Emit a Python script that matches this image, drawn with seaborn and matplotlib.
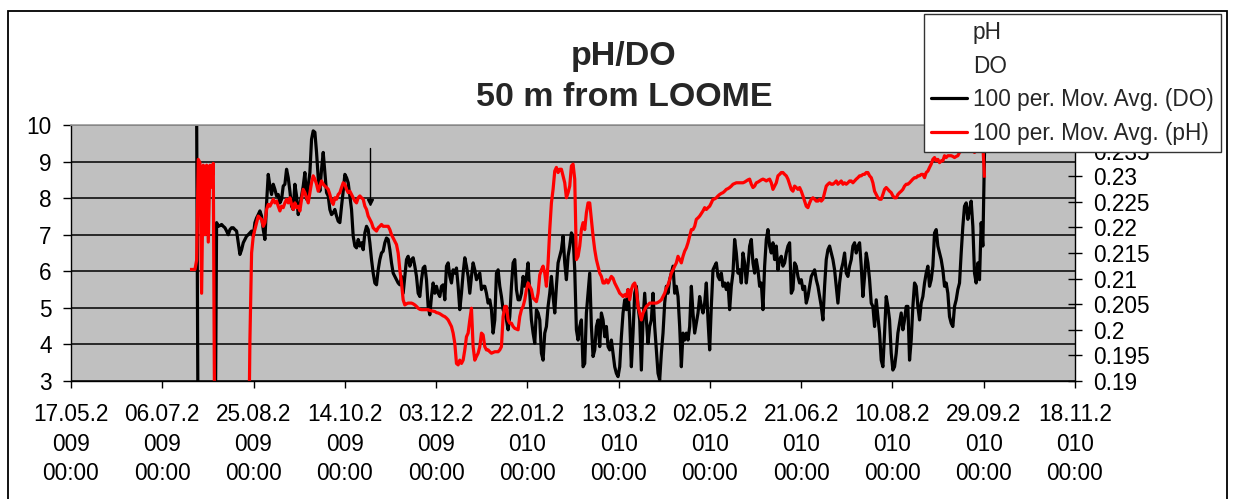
import matplotlib
matplotlib.use("Agg")
import matplotlib.pyplot as plt
from matplotlib.lines import Line2D
from matplotlib.patches import Rectangle
import pandas as pd
import seaborn as sns

# ---------------------------------------------------------------- data ---
TITLE = "pH/DO\n50 m from LOOME"
LEGEND_LABELS = ["pH", "DO", "100 per. Mov. Avg. (DO)", "100 per. Mov. Avg. (pH)"]

# smoothed series are stored on a regular logging step
STEP = "1314min"
DO_START = "2009-07-24 19:30"
PH_START = "2009-07-21 03:54"

# 100-period moving average of dissolved oxygen
DO_AVG = [
    10.5,
    0.0, 0.0, 0.0, 0.0, 0.0, 0.0, 0.0, 0.0, 0.0, 0.0, 0.0,
    7.33, 7.23, 7.25, 7.28, 7.23, 7.19, 7.10, 7.00, 7.14, 7.19,
    7.19, 7.14, 7.10, 6.78, 6.46, 6.59, 6.78, 6.87, 6.96, 7.00,
    7.05, 7.10, 6.96, 7.33, 7.46, 7.55, 7.65, 7.51, 7.14, 6.87,
    7.87, 8.65, 8.33, 8.10, 8.38, 8.24, 8.06, 8.10, 7.87, 7.97,
    8.33, 8.38, 8.79, 8.56, 8.19, 7.78, 7.69, 8.38, 8.06, 7.55,
    7.83, 8.06, 8.33, 8.70, 7.97, 8.33, 8.70, 9.61, 9.84, 9.80,
    9.25, 8.56, 8.19, 8.79, 9.25, 8.70, 8.15, 8.06, 7.69, 7.55,
    7.60, 7.69, 7.51, 7.37, 7.33, 7.78, 8.19, 8.65, 8.56, 8.42,
    8.06, 7.69, 6.96, 6.69, 6.64, 6.87, 6.69, 6.78, 6.59, 7.05,
    7.23, 7.14, 6.78, 6.32, 5.95, 5.68, 5.63, 6.04, 6.32, 6.50,
    6.55,
    6.78, 6.91, 6.87, 6.59, 6.23, 5.95, 5.86, 5.77, 5.68, 5.63,
    5.86, 5.40, 5.86, 6.32, 6.41, 6.14, 6.32, 6.37, 6.14, 5.86,
    5.40, 5.31, 5.77, 6.09, 6.14, 5.77, 5.04, 4.81, 5.31, 5.68,
    5.40, 5.59, 5.40, 5.31, 5.59, 5.63, 5.22, 6.14, 6.23, 5.86,
    5.68, 6.04, 5.95, 6.09, 5.59, 4.95, 5.40, 5.95, 6.37, 6.14,
    5.86, 5.40, 5.86, 6.23, 6.04, 5.77, 5.86, 5.95, 5.50, 5.59,
    5.59, 5.40, 5.13, 5.22, 4.95, 4.31, 4.67, 5.95, 6.04, 5.59,
    5.31, 4.95, 4.86, 4.67, 4.40, 4.76, 5.59, 6.23, 6.32, 5.50,
    5.22, 5.22, 5.40, 5.86, 5.59, 5.86, 6.23, 5.40, 4.67, 4.31,
    4.03, 4.95, 4.86, 4.67, 3.76, 3.57, 4.31, 4.49, 5.04, 5.40,
    5.86, 5.31, 4.86, 5.59, 6.23, 6.41, 6.59, 6.96, 6.23, 5.77,
    6.41, 6.69, 7.05, 6.96, 6.04, 4.40, 4.12, 4.49, 4.67, 3.39,
    3.48, 4.86, 5.40,
    5.95, 4.49, 3.67, 3.85, 4.49, 4.67, 3.94, 4.86, 4.67, 4.21,
    4.49, 3.94, 3.85, 4.12, 3.76, 3.39, 3.21, 3.12, 3.39, 4.21,
    4.86, 5.22, 4.95, 5.50, 4.67, 3.39, 4.31, 5.40, 5.59, 5.04,
    4.67, 3.30, 4.67, 5.40, 4.67, 4.03, 4.49, 4.67, 5.40, 4.49,
    3.85, 3.21, 3.03, 3.76, 4.31, 5.13, 5.59, 5.40, 5.77, 5.95,
    6.14, 5.40, 5.59, 5.31, 4.49, 3.39, 4.31, 4.12, 4.31, 4.12,
    4.49, 5.59, 4.86, 4.31, 4.58, 4.86, 5.31, 5.04, 4.86, 5.13,
    5.68, 4.67, 3.85, 5.04, 6.04, 6.14, 6.23, 5.86, 5.77, 5.95,
    5.59, 5.68, 5.50, 5.68, 4.95, 5.59, 5.95, 6.87, 6.50, 5.95,
    6.04, 5.68, 6.50, 6.23, 5.68, 6.14, 6.69, 6.87, 6.23, 5.95,
    6.32, 6.04, 5.59, 5.68, 4.95, 6.14, 6.87, 7.14, 6.69, 6.50,
    6.78, 6.32, 6.69, 6.04, 6.32, 6.41, 6.14, 6.23, 6.50, 6.69,
    6.78, 5.40, 5.50,
    6.23, 6.14, 5.86, 5.68, 5.77, 5.50, 5.59, 5.13, 5.31, 5.59,
    5.86, 5.95, 6.04, 5.77, 5.59, 5.31, 5.04, 4.67, 5.59, 6.32,
    6.59, 6.69, 6.50, 6.32, 6.04, 5.59, 5.13, 5.68, 6.04, 6.23,
    6.50, 5.95, 5.86, 6.14, 6.32, 6.69, 6.78, 6.50, 6.69, 6.78,
    6.14, 5.31, 5.86, 6.50, 6.23, 5.77, 5.13, 5.04, 4.49, 5.22,
    4.76, 4.31, 3.57, 3.39, 4.31, 5.31, 5.04, 4.67, 3.76, 3.30,
    3.39, 3.76, 4.31, 4.58, 4.86, 4.40, 4.67, 5.04, 5.04, 3.57,
    4.12, 5.04, 5.68, 5.59, 5.04, 4.67, 5.13, 5.31, 5.68, 5.95,
    6.14, 5.59, 5.77, 6.14, 7.05, 7.14, 6.69, 6.50, 6.32, 6.04,
    5.59, 5.68, 5.40, 4.76, 4.58, 4.49, 5.04, 5.22, 5.50, 5.68,
    6.50, 7.23, 7.78, 7.87, 7.42, 7.69, 7.92, 7.23, 5.95, 5.68,
    6.23, 5.77, 7.33, 6.69, 9.25,
]

# 100-period moving average of pH
PH_AVG = [
    6.05, 6.05, 6.05, 6.05,
    6.30, 9.06, 8.97, 5.40, 8.90, 7.00, 8.90, 6.80, 8.90, 8.30, 8.95,
    0.0, 0.0, 0.0, 0.0, 0.0, 0.0, 0.0, 0.0, 0.0, 0.0, 0.0,
    0.0, 0.0, 0.0, 0.0, 0.0, 0.0, 0.0, 0.0, 0.0, 0.0,
    4.12, 6.50,
    6.96, 7.14, 7.33, 7.51, 7.46, 7.42, 7.23, 7.33, 7.69, 7.83,
    7.78, 7.87, 7.97, 7.87, 7.92, 7.78, 7.65, 7.78, 7.74, 7.87,
    7.97, 7.87, 8.01, 7.83, 7.69, 7.87, 7.74, 7.78, 7.65, 7.97,
    8.24, 8.15, 8.01, 7.87, 8.15, 8.42, 8.61, 8.52, 8.38, 8.19,
    8.33, 8.47, 8.38, 8.33, 8.29, 8.24, 8.10, 7.92, 7.83, 8.01,
    7.97, 8.10, 8.15, 8.29, 8.42, 8.38, 8.24, 8.15, 8.19, 8.10,
    8.01, 7.92, 7.87, 8.01, 8.06, 8.01, 7.97, 7.78, 7.69, 7.51,
    7.42, 7.33, 7.19, 7.14, 7.10, 7.19, 7.23, 7.28, 7.23,
    7.23, 7.23, 7.23, 7.14, 7.00, 6.91, 6.82, 6.73, 6.50, 6.04,
    5.68, 5.22, 5.08, 5.11, 5.13, 5.13, 5.13, 5.11, 5.08, 5.04,
    4.99, 4.96, 4.95, 4.95, 4.95, 4.95, 4.95, 4.93, 4.92, 4.91,
    4.90, 4.87, 4.86, 4.84, 4.81, 4.78, 4.76, 4.72, 4.67, 4.58,
    4.49, 4.31, 4.03, 3.48, 3.44, 3.57, 3.48, 3.57, 3.85, 4.21,
    4.31, 4.67, 4.99, 3.94, 3.57, 3.67, 3.76, 3.94, 4.31, 4.26,
    3.94, 3.85, 3.85, 3.80, 3.76, 3.78, 3.80, 3.80, 3.80, 3.85,
    3.94, 4.76, 5.04, 5.04, 4.67, 4.58, 4.58, 4.49, 4.44, 4.42,
    4.40, 4.76, 4.95, 5.04, 5.22, 5.50, 5.68, 5.59, 5.50, 5.27,
    5.22, 5.17, 5.40, 5.90, 6.04, 6.14, 5.95, 5.59, 6.23, 7.14,
    7.87, 8.24, 8.74, 8.84, 8.70, 8.79, 8.79, 8.61, 8.42, 8.01,
    8.15, 8.33, 8.88, 8.93, 8.52, 6.32, 6.41, 6.69, 7.14, 7.33,
    7.14, 7.60, 7.87,
    7.87, 7.42, 6.96, 6.59, 6.32, 6.14, 5.95, 5.86, 5.68, 5.68,
    5.77, 5.68, 5.77, 5.86, 5.81, 5.68, 5.59, 5.50, 5.40, 5.36,
    5.31, 5.36, 5.31, 5.50, 5.22, 5.50, 5.63, 5.68, 5.50, 5.04,
    4.86, 4.67, 4.86, 4.95, 5.04, 5.08, 5.13, 5.13, 5.13, 5.13,
    5.13, 5.15, 5.18, 5.22, 5.31, 5.40, 5.54, 5.63, 5.77, 5.95,
    6.04, 6.14, 6.23, 6.41, 6.32, 6.23, 6.41, 6.55, 6.64, 6.78,
    6.96, 7.14, 7.14, 7.23, 7.42, 7.46, 7.51, 7.58, 7.65, 7.74,
    7.69, 7.74, 7.78, 7.87, 7.97, 7.98, 8.01, 8.06, 8.10, 8.13,
    8.15, 8.19, 8.24, 8.26, 8.29, 8.33, 8.38, 8.40, 8.42, 8.42,
    8.42, 8.42, 8.42, 8.44, 8.47, 8.50, 8.52, 8.38, 8.29, 8.33,
    8.42, 8.44, 8.47, 8.50, 8.52, 8.50, 8.47, 8.50, 8.52, 8.42,
    8.24, 8.33, 8.42, 8.61, 8.65, 8.70, 8.70, 8.65, 8.61, 8.52,
    8.38, 8.24, 8.19,
    8.33, 8.29, 8.24, 8.29, 8.19, 8.06, 7.92, 7.78, 7.74, 7.87,
    7.97, 8.01, 7.97, 7.92, 7.92, 7.97, 7.92, 7.97, 8.15, 8.33,
    8.38, 8.42, 8.38, 8.38, 8.42, 8.47, 8.38, 8.42, 8.47, 8.38,
    8.42, 8.38, 8.42, 8.47, 8.47, 8.42, 8.47, 8.52, 8.56, 8.61,
    8.61, 8.65, 8.65, 8.70, 8.70, 8.61, 8.56, 8.42, 8.19, 8.10,
    8.01, 7.97, 7.97, 8.10, 8.24, 8.29, 8.24, 8.19, 8.15, 8.06,
    8.01, 8.01, 8.10, 8.15, 8.19, 8.24, 8.33, 8.38, 8.38, 8.42,
    8.47, 8.52, 8.56, 8.56, 8.61, 8.61, 8.65, 8.65, 8.56, 8.70,
    8.74, 8.84, 8.93, 9.06, 9.11, 9.02, 9.06, 8.97, 9.02, 9.02,
    9.16, 9.11, 9.16, 9.16, 9.16, 9.14, 9.11, 9.14, 9.16, 9.25,
    9.29, 9.34, 9.29, 9.38, 9.34, 9.29, 9.34, 9.29, 9.25, 9.29,
    9.34, 9.38, 9.43, 9.48, 8.56,
]

# single raw DO reading drawn as a thin drop line
DO_SPIKE_TIME = "2009-10-27 16:50"
DO_SPIKE = [9.38, 7.90]

LEFT_TICKS = [3, 4, 5, 6, 7, 8, 9, 10]
RIGHT_TICKS = [0.19, 0.195, 0.2, 0.205, 0.21, 0.215, 0.22, 0.225, 0.23, 0.235, 0.24]
X_START = "2009-05-17"
X_TICK_COUNT = 12
X_TICK_DAYS = 50

# ------------------------------------------------------------- styling ---
sns.set_theme(style="ticks")
plt.rcParams["font.family"] = ["Liberation Sans", "DejaVu Sans"]
FS = 16.3

W, H = 1233, 499
fig = plt.figure(figsize=(W / 100, H / 100), dpi=100, facecolor="white")
ax = fig.add_axes([71 / W, 1 - 381 / H, (1075 - 71) / W, (381 - 125) / H])
ax.set_facecolor("#C0C0C0")

do_df = pd.DataFrame({
    "time": pd.date_range(DO_START, periods=len(DO_AVG), freq=STEP),
    "value": DO_AVG,
})
ph_df = pd.DataFrame({
    "time": pd.date_range(PH_START, periods=len(PH_AVG), freq=STEP),
    "value": PH_AVG,
})
spike_df = pd.DataFrame({
    "time": [pd.Timestamp(DO_SPIKE_TIME)] * len(DO_SPIKE),
    "value": DO_SPIKE,
})

line_kw = dict(estimator=None, sort=False, legend=False, linewidth=2.3,
               solid_joinstyle="round", solid_capstyle="butt")
sns.lineplot(data=do_df, x="time", y="value", ax=ax, color="black", **line_kw)
sns.lineplot(data=spike_df, x="time", y="value", ax=ax, color="black",
             estimator=None, sort=False, legend=False, linewidth=1.0)
ax.plot(pd.Timestamp(DO_SPIKE_TIME), DO_SPIKE[-1], marker="v",
        color="black", markersize=5, linestyle="none")
sns.lineplot(data=ph_df, x="time", y="value", ax=ax, color="red", **line_kw)

x0 = pd.Timestamp(X_START)
x_ticks = [x0 + pd.Timedelta(days=X_TICK_DAYS * i) for i in range(X_TICK_COUNT)]
ax.set_xlim(x_ticks[0], x_ticks[-1])
ax.set_ylim(LEFT_TICKS[0], LEFT_TICKS[-1])
ax.set_xticks(x_ticks)
labels = []
for t in x_ticks:
    s = t.strftime("%d.%m.%Y")
    labels.append(s[:7] + "\n" + s[7:] + "\n" + t.strftime("%H:%M"))
ax.set_xticklabels(labels, fontsize=FS, linespacing=1.36)
ax.set_yticks(LEFT_TICKS)
ax.set_yticklabels([str(v) for v in LEFT_TICKS], fontsize=FS)
ax.set_xlabel("")
ax.set_ylabel("")

ax.set_axisbelow(True)
ax.yaxis.grid(True, color="black", linewidth=1.1)
ax.xaxis.grid(False)
ax.tick_params(axis="y", direction="out", length=6, width=1, pad=8, colors="black")
ax.tick_params(axis="x", direction="out", length=5, width=1, pad=11, colors="black")
for side in ("left", "bottom"):
    ax.spines[side].set_color("black")
    ax.spines[side].set_linewidth(1.0)
ax.spines["top"].set_color("#9a9a9a")
ax.spines["top"].set_linewidth(1.2)
ax.spines["right"].set_visible(False)

# secondary scale on the right
ax2 = ax.twinx()
ax2.set_ylim(RIGHT_TICKS[0], RIGHT_TICKS[-1])
ax2.set_yticks(RIGHT_TICKS)
ax2.set_yticklabels([f"{v:g}" for v in RIGHT_TICKS], fontsize=FS)
ax2.tick_params(axis="y", direction="inout", length=10, width=1, pad=8, colors="black")
ax2.grid(False)
for side in ("left", "top", "bottom"):
    ax2.spines[side].set_visible(False)
ax2.spines["right"].set_color("black")
ax2.spines["right"].set_linewidth(1.0)
ax2.patch.set_visible(False)

fig.text(624 / W, 1 - 77 / H, TITLE, ha="center", va="center",
         fontsize=24.5, fontweight="bold", linespacing=1.42)

handles = [
    Line2D([], [], color="none"),
    Line2D([], [], color="none"),
    Line2D([], [], color="black", linewidth=2.3),
    Line2D([], [], color="red", linewidth=2.3),
]
leg = fig.legend(handles, LEGEND_LABELS, loc="upper left",
                 bbox_to_anchor=(924 / W, 1 - 14 / H), borderaxespad=0,
                 frameon=True, fancybox=False, framealpha=1, edgecolor="#333333",
                 prop={"size": FS}, handlelength=1.55, handletextpad=0.28,
                 labelspacing=0.46, borderpad=0.33)
leg.get_frame().set_linewidth(1.0)

# chart-area border
fig.patches.append(Rectangle((8 / W, -0.05), (1227 - 8) / W, 1.05 - 11 / H,
                             transform=fig.transFigure, fill=False,
                             edgecolor="black", linewidth=1.3))

fig.savefig("out.png", dpi=100, facecolor="white")
